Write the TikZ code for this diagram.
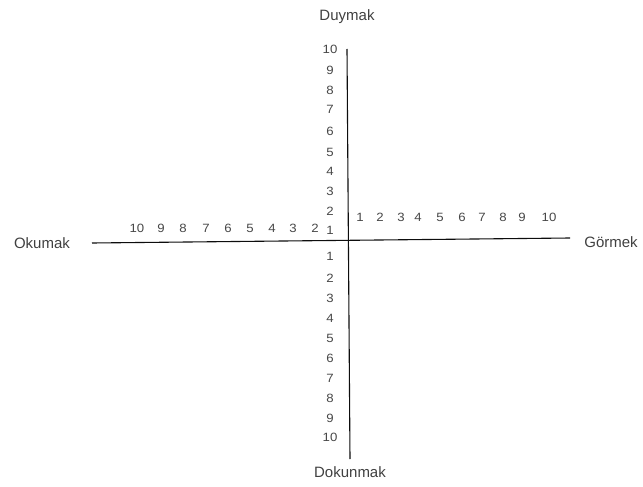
\documentclass[tikz,border=0pt]{standalone}
\usepackage{fontspec}
\setmainfont{Liberation Sans}
\begin{document}
\begin{tikzpicture}[x=1pt,y=-1pt,
  num/.style={text=black!72, font=\fontsize{12}{12}\selectfont, inner sep=0pt, xscale=1.1},
  lab/.style={text=black!75, font=\fontsize{15}{15}\selectfont, inner sep=0pt},
  axis/.style={draw=black!95, line width=1.1pt}]
\useasboundingbox (0,0) rectangle (643,487);
% axes endpoints
\coordinate (L) at (92,243);
\coordinate (R) at (570,238);
\coordinate (T) at (347,49);
\coordinate (B) at (350,459);
\draw[axis] (L) -- (R);
\draw[axis] (T) -- (B);
% labels
\node[lab] (duy) at (347,17) {Duymak};
\node[lab] (oku) at (42,243) {Okumak};
\node[lab] (gor) at (611,242) {Görmek};
\node[lab] (dok) at (350,472) {Dokunmak};
% top numbers
\foreach \n/\y in {10/49,9/70,8/90,7/109,6/131,5/152,4/171,3/191,2/211,1/230}
  \node[num] (t\n) at (330,\y) {\n};
% bottom numbers
\foreach \n/\y in {1/256,2/278,3/298,4/318,5/338,6/358,7/378,8/398,9/418,10/437}
  \node[num] (b\n) at (330,\y) {\n};
% left numbers
\foreach \n/\x in {10/137,9/161,8/183,7/206,6/228,5/250,4/272,3/293,2/315}
  \node[num] (l\n) at (\x,228) {\n};
% right numbers
\foreach \n/\x in {1/360,2/380,3/401,4/418,5/440,6/462,7/482,8/503,9/522,10/549}
  \node[num] (r\n) at (\x,217) {\n};
\end{tikzpicture}
\end{document}
